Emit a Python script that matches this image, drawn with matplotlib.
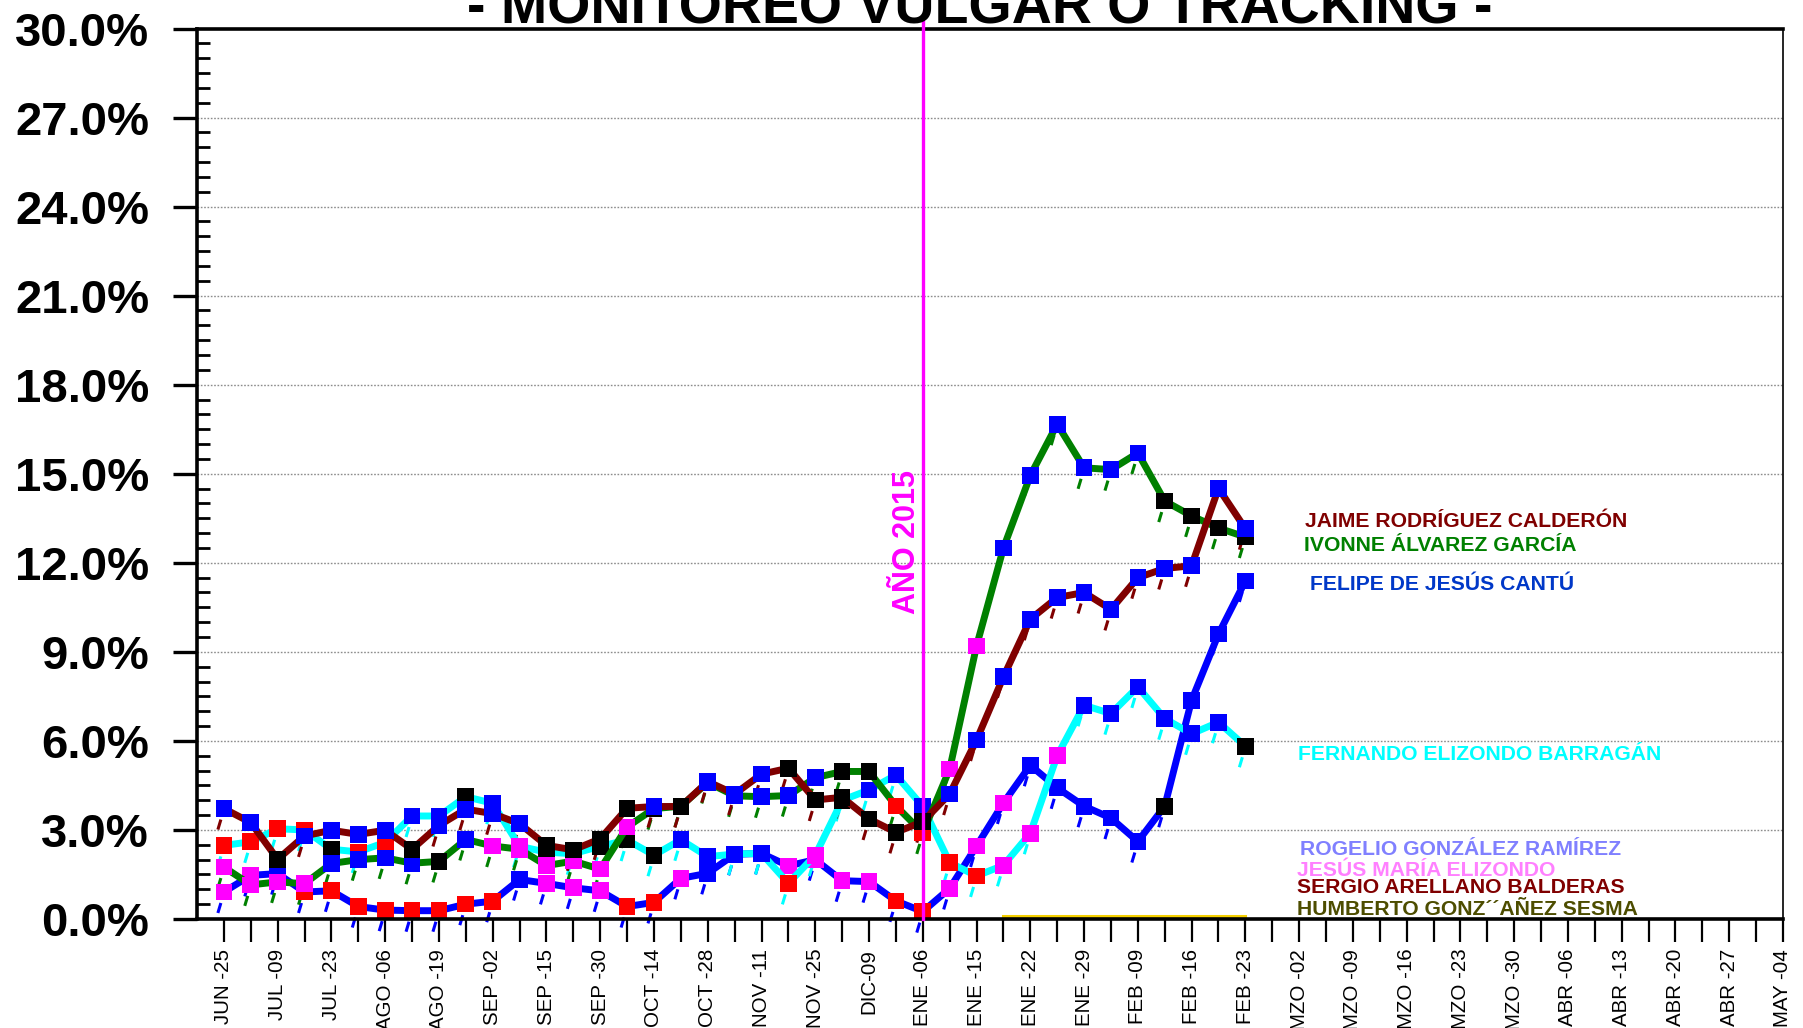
import matplotlib
matplotlib.use('Agg')
import matplotlib.pyplot as plt
import numpy as np
from matplotlib.collections import LineCollection

plt.rcParams['font.family'] = ['Liberation Sans', 'DejaVu Sans']

# ---------------- data ----------------
tick_labels = ['JUN -25', 'JUL -09', 'JUL -23', 'AGO -06', 'AGO -19', 'SEP -02',
               'SEP -15', 'SEP -30', 'OCT -14', 'OCT -28', 'NOV -11', 'NOV -25',
               'DIC-09', 'ENE -06', 'ENE -15', 'ENE -22', 'ENE -29', 'FEB -09',
               'FEB -16', 'FEB -23', 'MZO -02', 'MZO -09', 'MZO -16', 'MZO -23',
               'MZO -30', 'ABR -06', 'ABR -13', 'ABR -20', 'ABR -27', 'MAY -04']

jaime = [3.72, 3.25, 2.01, 2.80, 2.99, 2.85, 2.99, 2.35, 3.15, 3.70, 3.55, 3.21, 2.48,
         2.33, 2.70, 3.73, 3.79, 3.79, 4.63, 4.21, 4.88, 5.08, 4.01, 4.10, 3.37, 2.92,
         3.28, 4.21, 6.03, 8.16, 10.10, 10.83, 11.00, 10.43, 11.50, 11.81, 11.90, 14.51, 13.15]
jaime_mk = 'bbkbbbbkbbbbkkkkbkbbbkkkkkkbbbbbbbbbbbb'

ivonne = [1.75, 1.15, 1.25, 1.19, 1.87, 2.00, 2.06, 1.88, 1.94, 2.68, 2.46, 2.35, 1.80,
          1.95, 1.68, 3.10, 3.72, 3.80, 4.60, 4.15, 4.12, 4.16, 4.76, 4.97, 4.97, 3.81,
          2.90, 5.05, 9.20, 12.50, 14.94, 16.67, 15.20, 15.14, 15.70, 14.08, 13.58, 13.17, 12.87]
ivonne_mk = 'mmmmbbbbkbmmmmmmkbbbbbbkkrrmmbbbbbbkkkk'

felipe = [0.91, 1.47, 1.53, 0.91, 0.95, 0.42, 0.30, 0.28, 0.28, 0.50, 0.60, 1.33, 1.20,
          1.05, 0.95, 0.42, 0.56, 1.37, 1.54, 2.18, 2.21, 1.79, 2.00, 1.29, 1.26, 0.61,
          0.25, 1.03, 2.46, 3.91, 5.18, 4.42, 3.80, 3.40, 2.61, 3.80, 7.37, 9.60, 11.39]
felipe_mk = 'mmbrrrrrrrrbmmmrrmbbbmmmmrrmmmbbbbbkbbb'

fernando = [2.48, 2.60, 3.04, 3.00, 2.35, 2.26, 2.58, 3.47, 3.47, 4.12, 3.90, 2.45, 2.25,
            2.20, 2.45, 2.66, 2.15, 2.67, 2.10, 2.19, 2.21, 1.20, 2.15, 4.00, 4.35, 4.85,
            3.79, 1.90, 1.45, 1.81, 2.89, 5.50, 7.20, 6.92, 7.82, 6.75, 6.24, 6.63, 5.82]
fernando_mk = 'rrrrkrrbbkbmkkkkkbbbbrmkbbbrrmmmbbbbbbk'

humberto = [np.nan] * 29 + [0.1] * 10

legend_names = ['JAIME RODRÍGUEZ CALDERÓN', 'IVONNE ÁLVAREZ GARCÍA', 'FELIPE DE JESÚS CANTÚ',
                'FERNANDO ELIZONDO BARRAGÁN', 'ROGELIO GONZÁLEZ RAMÍREZ',
                'JESÚS MARÍA ELIZONDO', 'SERGIO ARELLANO BALDERAS',
                'HUMBERTO GONZ\u00b4\u00b4AÑEZ SESMA']

# ---------------- figure ----------------
W, H = 1803, 1028
fig = plt.figure(figsize=(W / 100, H / 100), dpi=100)
L, R, T, B = 197, 1783, 28.5, 919
ax = fig.add_axes([L / W, 1 - B / H, (R - L) / W, (B - T) / H])
ax.set_xlim(-1, 58)
ax.set_ylim(0, 30)

px_x = (R - L) / 59.0   # pixels per category
px_y = (B - T) / 30.0   # pixels per percent

# grid
for v in np.arange(3, 30, 3):
    ax.axhline(v, color='#8c8c8c', lw=1.0, ls=(0, (1.2, 1.2)), zorder=0)

mk_colors = {'b': '#0000FF', 'r': '#FF0000', 'k': '#000000', 'm': '#FF00FF'}

series = [
    (felipe, felipe_mk, '#0000FF'),
    (fernando, fernando_mk, '#00FFFF'),
    (ivonne, ivonne_mk, '#008000'),
    (jaime, jaime_mk, '#800000'),
]

# small slanted dashes under each point
for vals, codes, col in series:
    segs = []
    for i, v in enumerate(vals):
        segs.append([(i - 6 / px_x, v - 21 / px_y), (i - 3 / px_x, v - 11 / px_y)])
    ax.add_collection(LineCollection(segs, colors=col, linewidths=2.2, zorder=1,
                                     clip_on=False))

z = 3
for vals, codes, col in series:
    idx = np.arange(len(vals))
    ax.plot(idx, vals, color=col, lw=5.0, zorder=z, solid_joinstyle='miter')
    ax.scatter(idx, vals, marker='s', s=12.0 ** 2,
               c=[mk_colors[c] for c in codes], linewidths=0, zorder=z + 0.5)
    z += 1

ax.plot(np.arange(len(humberto)), humberto, color='#F5D000', lw=2.2, zorder=2)

# year divider
ax.plot([26, 26], [0, 30.4], color='#FF00FF', lw=2.4, zorder=20, clip_on=False)
fig.text(907 / W, 1 - 542 / H, 'AÑO 2015', rotation=90, ha='center', va='center',
         color='#FF00FF', fontsize=22, fontweight='bold')

# axes styling
for s in ['left', 'bottom', 'top']:
    ax.spines[s].set_linewidth(2.6)
ax.spines['right'].set_linewidth(1.2)
for s in ax.spines.values():
    s.set_zorder(15)

ax.set_xticks(np.arange(0, 59))
xl = []
for i in range(59):
    xl.append(tick_labels[i // 2] if i % 2 == 0 else '')
ax.set_xticklabels(xl, rotation=90)
ax.tick_params(axis='x', direction='out', length=16.5, width=1.6, pad=5,
               labelsize=14.8)

ax.set_yticks(np.arange(0, 30.01, 3))
ax.set_yticklabels([f'{v:.1f}%' for v in np.arange(0, 30.01, 3)])
ax.set_yticks(np.arange(0, 30.01, 0.5), minor=True)
ax.tick_params(axis='y', which='major', direction='out', length=17.5, width=2.4,
               labelsize=34, pad=17)
ax.tick_params(axis='y', which='minor', direction='in', length=9.5, width=2.0)
for t in ax.get_yticklabels():
    t.set_fontweight('bold')

# title
fig.text(980 / W, 1 - 23 / H, '- MONITOREO VULGAR O TRACKING -', ha='center',
         va='baseline', fontsize=40, fontweight='bold')

# legend texts
leg_cols = ['#800000', '#008000', '#0038C8', '#00FFFF', '#8080FF', '#FF80FF',
            '#800000', '#4D4D00']
leg_x = [1305, 1304, 1310, 1298, 1300, 1297, 1297, 1297]
leg_base = [526.7, 550.7, 590, 760, 855, 876.5, 893.3, 915]
for name, c, x, yb in zip(legend_names, leg_cols, leg_x, leg_base):
    fig.text(x / W, 1 - yb / H, name, color=c, fontsize=15.2, fontweight='bold',
             ha='left', va='baseline')

fig.savefig('out.png', dpi=100)
